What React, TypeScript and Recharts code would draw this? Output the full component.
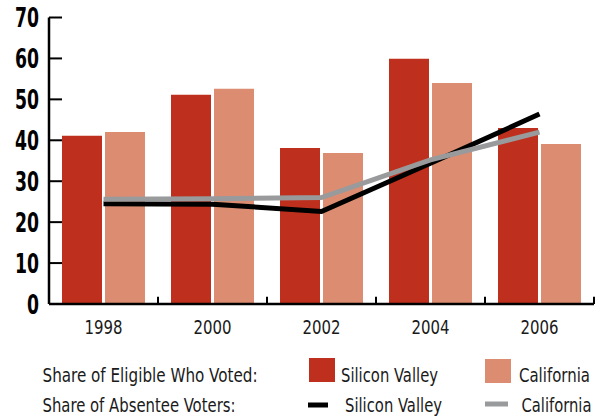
import React from 'react';
import { ComposedChart, Bar, Line, XAxis, YAxis, Legend, ReferenceLine } from 'recharts';

const years = ['1998', '2000', '2002', '2004', '2006'];
const eligibleSV = [41.1, 51.1, 38.1, 59.9, 43.0];
const eligibleCA = [42.0, 52.6, 36.9, 54.0, 39.1];
const absenteeSV = [24.5, 24.4, 22.6, 34.4, 46.4];
const absenteeCA = [25.6, 25.7, 26.0, 35.2, 42.0];
const yTicks = [0, 10, 20, 30, 40, 50, 60, 70];
const xTickHeight = 1.8;

const data = years.map((year, i) => ({
  year,
  eligibleSV: eligibleSV[i],
  eligibleCA: eligibleCA[i],
  absenteeSV: absenteeSV[i],
  absenteeCA: absenteeCA[i],
}));

const RED = '#BE301D';
const SALMON = '#DC8D71';
const BLACK = '#000000';
const GRAY = '#999A9C';
const NARROW = "'Liberation Sans Narrow', 'DejaVu Sans Condensed', 'Liberation Sans', sans-serif";
const TEXT = '#1a1a1a';

const YTick = (props: any) => {
  const { x, y, payload } = props;
  const label = String(payload.value);
  const w = label.length * 12;
  return (
    <g>
      <line x1={x + 10} x2={x + 23} y1={y} y2={y} stroke="#000" strokeWidth={2} />
      <text x={x - w} y={y} dy={9.5} textLength={w} lengthAdjust="spacingAndGlyphs" fontFamily={NARROW} fontWeight="bold" fontSize={26} fill="#000">
        {label}
      </text>
    </g>
  );
};

const XTick = (props: any) => {
  const { x, y, payload } = props;
  return (
    <text x={x - 19} y={y} dy={30} textLength={38} lengthAdjust="spacingAndGlyphs" fontFamily={NARROW} fontSize={20} fill={TEXT}>
      {payload.value}
    </text>
  );
};

const LegendText = ({ x, y, w, children }: any) => (
  <text x={x} y={y} textLength={w} lengthAdjust="spacingAndGlyphs">
    {children}
  </text>
);

const LegendContent = () => (
  <svg width={603} height={66} style={{ display: 'block', overflow: 'visible' }}>
    <g fontFamily={NARROW} fontSize={20} fill={TEXT}>
      <LegendText x={42.5} y={32} w={215}>Share of Eligible Who Voted:</LegendText>
      <rect x={309} y={8} width={26} height={24} fill={RED} />
      <LegendText x={341} y={32} w={97}>Silicon Valley</LegendText>
      <rect x={485} y={9} width={26} height={24} fill={SALMON} />
      <LegendText x={519} y={32} w={71}>California</LegendText>
      <LegendText x={42.5} y={62} w={193}>Share of Absentee Voters:</LegendText>
      <line x1={308} x2={328} y1={55} y2={55} stroke={BLACK} strokeWidth={5} />
      <LegendText x={345} y={62} w={97}>Silicon Valley</LegendText>
      <line x1={485} x2={508} y1={54} y2={54} stroke={GRAY} strokeWidth={5} />
      <LegendText x={521.5} y={62} w={70}>California</LegendText>
    </g>
  </svg>
);

export default function App() {
  return (
    <div style={{ position: 'absolute', left: 0, top: 0, width: 603, height: 416, background: '#fff' }}>
      <ComposedChart width={603} height={416} data={data} margin={{ top: 17.5, right: 9, bottom: 82, left: 0 }} barSize={40} barGap={3}>
        <XAxis dataKey="year" axisLine={{ stroke: '#000', strokeWidth: 2.5 }} tickLine={false} tickSize={0} tickMargin={0} height={30} interval={0} tick={<XTick />} />
        <YAxis width={49} domain={[0, 70]} ticks={yTicks} interval={0} tickSize={0} tickMargin={10} tickLine={false} axisLine={{ stroke: '#000', strokeWidth: 2.5 }} tick={<YTick />} />
        <Bar dataKey="eligibleSV" fill={RED} isAnimationActive={false} />
        <Bar dataKey="eligibleCA" fill={SALMON} isAnimationActive={false} />
        <Line type="linear" dataKey="absenteeSV" stroke={BLACK} strokeWidth={5} dot={false} activeDot={false} isAnimationActive={false} />
        <Line type="linear" dataKey="absenteeCA" stroke={GRAY} strokeWidth={5} dot={false} activeDot={false} isAnimationActive={false} />
        {years.map((yr) => (
          <ReferenceLine key={yr} segment={[{ x: yr, y: 0 }, { x: yr, y: xTickHeight }]} position="end" stroke="#000" strokeWidth={2} ifOverflow="visible" />
        ))}
        <Legend layout="vertical" align="center" verticalAlign="middle" wrapperStyle={{ left: 0, top: 350, width: 603, height: 66 }} content={<LegendContent />} />
      </ComposedChart>
    </div>
  );
}
